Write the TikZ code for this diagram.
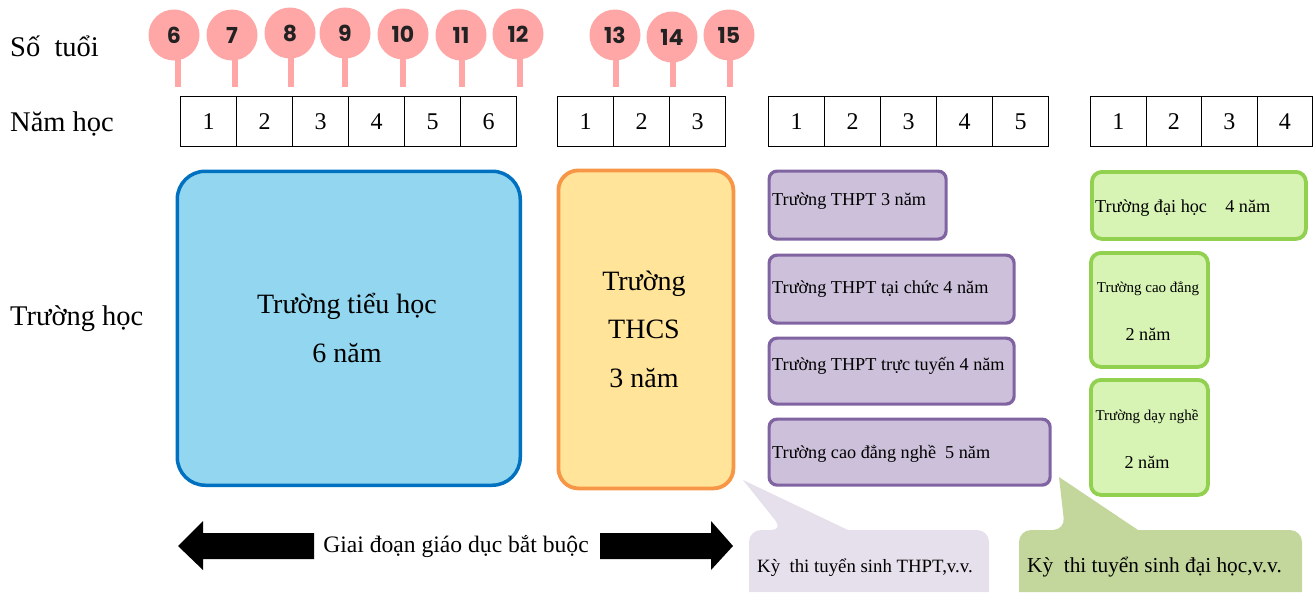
\documentclass[tikz,border=0pt]{standalone}
\usepackage{fontspec}
\setmainfont{Liberation Serif}
\newfontfamily\agefont{Poppins}
\definecolor{pinkc}{HTML}{FFA6A6}
\definecolor{agetext}{HTML}{222222}
\definecolor{bluefill}{HTML}{92D7EF}
\definecolor{blueline}{HTML}{0070C0}
\definecolor{orfill}{HTML}{FFE499}
\definecolor{orline}{HTML}{F79646}
\definecolor{purfill}{HTML}{CCC0DA}
\definecolor{purline}{HTML}{8064A2}
\definecolor{grfill}{HTML}{D7F4B4}
\definecolor{grline}{HTML}{92D050}
\definecolor{callP}{HTML}{E5E0EC}
\definecolor{callG}{HTML}{C3D69B}
\begin{document}
\begin{tikzpicture}[x=1pt,y=-1pt,
  lab/.style={font=\fontsize{28.5}{30}\selectfont, anchor=base west, inner sep=0},
  agec/.style={circle, fill=pinkc, minimum size=51, inner sep=0,
    font=\agefont\bfseries\fontsize{22}{22}\selectfont, text=agetext},
  stembar/.style={fill=pinkc},
  cell/.style={draw, line width=1.3, minimum height=50, inner sep=0,
    font=\fontsize{24}{24}\selectfont, anchor=north west},
  bigtxt/.style={font=\fontsize{28}{28}\selectfont, anchor=base, inner sep=0},
  pbox/.style={draw=purline, fill=purfill, line width=3.2, rounded corners=8, anchor=north west, inner sep=0},
  gbox/.style={draw=grline, fill=grfill, line width=3.8, rounded corners=10, anchor=north west, inner sep=0},
  midtxt/.style={font=\fontsize{18.2}{18}\selectfont, inner sep=0},
  smalltxt/.style={font=\fontsize{15}{15}\selectfont, inner sep=0, anchor=base},
]
\useasboundingbox (0,0) rectangle (1314,592);

% left labels
\node[lab] (lage) at (10,56) {Số\ \ tuổi};
\node[lab] (lyear) at (10,131) {Năm học};
\node[lab] (lschool) at (10,325) {Trường học};

% age lollipops
\foreach \n/\cx/\cy/\sx in {6/174/35/177.5, 7/232/35/235, 8/290/33/291, 9/345/33/345,
  10/403/34/403, 11/461/35/461.5, 12/518/34/520, 13/615/35/616, 14/672/37/673, 15/729/35/730}{
  \fill[stembar] (\sx-3,\cy+20) rectangle (\sx+3,87);
  \node[agec] (age\n) at (\cx,\cy) {\n};
}

% year cells
\foreach \i in {1,...,6}{\node[cell, minimum width=56] (ra\i) at ({180+56*(\i-1)},96) {\i};}
\foreach \i in {1,...,3}{\node[cell, minimum width=56] (rb\i) at ({557+56*(\i-1)},96) {\i};}
\foreach \i in {1,...,5}{\node[cell, minimum width=56] (rc\i) at ({768+56*(\i-1)},96) {\i};}
\foreach \i in {1,...,4}{\node[cell, minimum width=55.5] (rd\i) at ({1090+55.5*(\i-1)},96) {\i};}

% primary school
\node[draw=blueline, fill=bluefill, line width=3.5, rounded corners=28,
  minimum width=343, minimum height=314, anchor=north west, inner sep=0] (prim) at (175.5,169.5) {};
\node[bigtxt] (primt1) at (347,313) {Trường tiểu học};
\node[bigtxt] (primt2) at (347,362) {6 năm};

% lower secondary
\node[draw=orline, fill=orfill, line width=3.8, rounded corners=20,
  minimum width=175, minimum height=318, anchor=north west, inner sep=0] (thcs) at (556.5,168.5) {};
\node[bigtxt] (thcst1) at (644,290) {Trường};
\node[bigtxt] (thcst2) at (644,338) {THCS};
\node[bigtxt] (thcst3) at (644,387) {3 năm};

% upper secondary options
\node[pbox, minimum width=177, minimum height=68] (p1) at (767.5,169.5) {};
\node[midtxt, anchor=base west] (p1t) at (772,205) {Trường THPT 3 năm};
\node[pbox, minimum width=245, minimum height=68] (p2) at (767.5,253.5) {};
\node[midtxt, anchor=base west] (p2t) at (772,293) {Trường THPT tại chức 4 năm};
\node[pbox, minimum width=245, minimum height=66] (p3) at (767.5,336.5) {};
\node[midtxt, anchor=base west] (p3t) at (772,370) {Trường THPT trực tuyến 4 năm};
\node[pbox, minimum width=281, minimum height=66] (p4) at (767.5,417.5) {};
\node[midtxt, anchor=base west] (p4t) at (772,458) {Trường cao đẳng nghề\ \ 5 năm};

% higher education
\node[gbox, minimum width=214, minimum height=67] (g1) at (1090,170) {};
\node[midtxt, anchor=base west] (g1t) at (1095,212) {Trường đại học\ \ \ \ 4 năm};
\node[gbox, minimum width=117, minimum height=114] (g2) at (1089,251) {};
\node[smalltxt] (g2t1) at (1148,292) {Trường cao đẳng};
\node[midtxt, anchor=base] (g2t2) at (1148,340) {2 năm};
\node[gbox, minimum width=117, minimum height=115] (g3) at (1089,378) {};
\node[smalltxt] (g3t1) at (1147,420) {Trường dạy nghề};
\node[midtxt, anchor=base] (g3t2) at (1147,468) {2 năm};

% callouts
\fill[callP] (749,560) [rounded corners=12] -- (749,530) -- (783,530) [sharp corners] -- (743,480)
  -- (848,530) [rounded corners=12] -- (989,530) [sharp corners] -- (989,592) -- (749,592) -- cycle;
\node[font=\fontsize{18.8}{18.8}\selectfont, anchor=base west, inner sep=0] (cpt) at (757,572) {Kỳ\ \ thi tuyển sinh THPT,v.v.};
\fill[callG] (1019,560) [rounded corners=12] -- (1019,530) -- (1065,530) [sharp corners] -- (1059,477)
  -- (1138,530) [rounded corners=12] -- (1302,530) [sharp corners] -- (1302,592) -- (1019,592) -- cycle;
\node[font=\fontsize{21.3}{21.3}\selectfont, anchor=base west, inner sep=0] (cgt) at (1027,572) {Kỳ\ \ thi tuyển sinh đại học,v.v.};

% compulsory arrow
\node[font=\fontsize{23.6}{23.6}\selectfont, anchor=base, inner sep=0] (arrt) at (456,552) {Giai đoạn giáo dục bắt buộc};
\fill (178,546) -- (203,521) -- (203,533) -- (314,533) -- (314,559) -- (203,559) -- (203,570) -- cycle;
\fill (600,533) -- (711,533) -- (711,521) -- (733,546) -- (711,570) -- (711,559) -- (600,559) -- cycle;
\end{tikzpicture}
\end{document}
